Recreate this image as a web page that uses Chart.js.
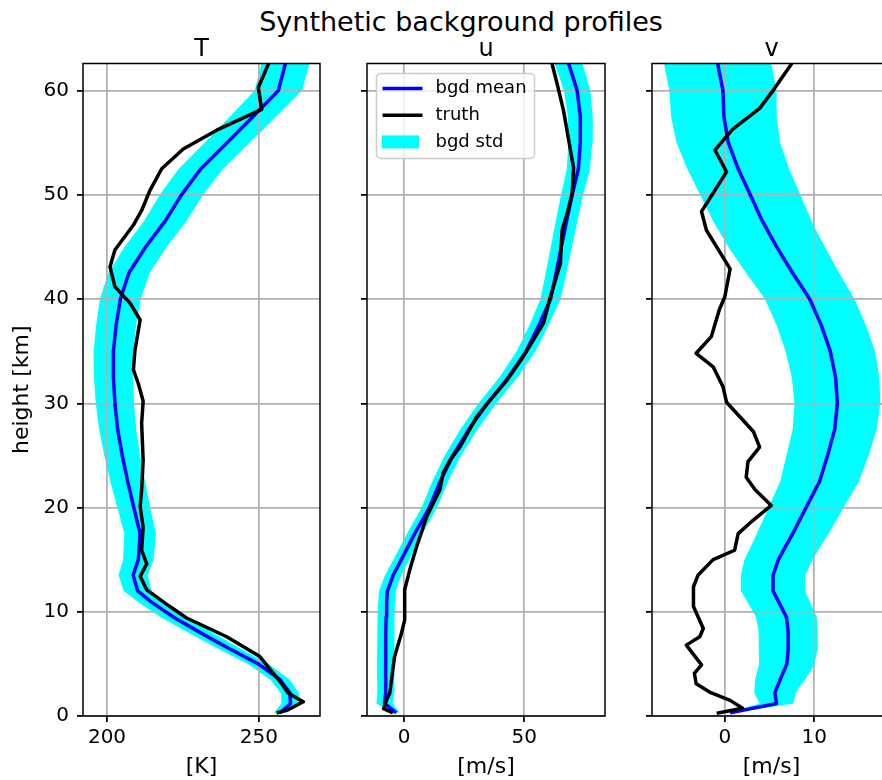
<!DOCTYPE html>
<html>
<head>
<meta charset="utf-8">
<script src="https://cdn.jsdelivr.net/npm/chart.js@4.4.0/dist/chart.umd.min.js"></script>
<style>
  body { margin: 0; background: #fff; }
  #fig { position: relative; width: 882px; height: 780px; overflow: hidden; background: #fff;
         font-family: "DejaVu Sans", sans-serif; }
  #suptitle { position: absolute; top: 6px; left: 0; width: 922px; text-align: center;
              font-size: 27px; color: #000; }
  canvas { position: absolute; top: 0; }
</style>
</head>
<body>
<div id="fig">
  <div id="suptitle">Synthetic background profiles</div>
  <canvas id="chartT" style="left:0px" width="330" height="780"></canvas>
  <canvas id="chartU" style="left:330px" width="290" height="780"></canvas>
  <canvas id="chartV" style="left:620px" width="275" height="780"></canvas>
</div>
<script>
// heights [km] of the background levels
const heightsBgd = [0.3, 1.2, 2.2, 3.5, 5, 6.5, 8, 9.5, 11, 12, 13.5, 15, 17.5, 20, 22.5, 25,
  27.5, 30, 32.5, 35, 37.5, 40, 42.5, 45, 47.5, 50, 52.5, 55, 57.5, 60, 62.6];

const meanT = [256.9, 260.4, 260.2, 256.9, 249.8, 240.0, 230.7, 221.8, 214.3, 210.1, 208.6, 210.3,
  210.9, 208.8, 206.8, 205.0, 203.5, 202.6, 202.1, 202.1, 203.0, 204.4, 207.2, 212.7, 219.2, 224.5,
  230.9, 239.5, 248.0, 256.4, 258.7];
const stdT = [2.0, 3.0, 3.0, 3.2, 3.4, 3.7, 4.0, 4.2, 4.4, 4.6, 4.8, 5.0, 5.2, 5.4, 5.7, 5.9,
  6.1, 6.3, 6.4, 6.5, 6.6, 6.7, 6.8, 6.9, 7.0, 7.1, 7.3, 7.4, 7.6, 7.8, 7.9];

const meanU = [-3.3, -8.2, -7.7, -7.7, -7.8, -7.7, -7.6, -7.5, -7.3, -7.0, -4.6, -1.2, 4.4, 10.5,
  15.0, 20.3, 27.0, 34.7, 43.5, 50.8, 56.2, 61.0, 63.3, 65.5, 67.7, 70.0, 72.6, 73.4, 73.4, 72.1, 68.5];
const stdU = [1.5, 3.4, 3.5, 3.6, 3.6, 3.6, 3.6, 3.6, 3.5, 3.5, 3.4, 3.3, 3.2, 3.2, 3.3, 3.4,
  3.6, 3.7, 3.8, 3.9, 4.0, 4.2, 4.3, 4.4, 4.5, 4.6, 4.8, 5.0, 5.2, 5.5, 5.8];

const meanV = [0.6, 5.8, 5.6, 6.2, 6.95, 7.1, 7.1, 6.9, 6.0, 5.4, 5.4, 6.0, 7.6, 9.1, 10.6, 11.5,
  12.3, 12.6, 12.4, 11.8, 10.8, 9.5, 7.6, 5.8, 4.2, 2.85, 1.5, 0.4, -0.1, -0.2, -0.8];
const stdV = [0.3, 1.9, 2.3, 2.8, 3.1, 3.3, 3.3, 3.4, 3.5, 3.6, 3.6, 3.8, 4.0, 4.2, 4.4, 4.6,
  4.7, 4.8, 4.9, 5.0, 5.0, 5.0, 5.2, 5.4, 5.5, 5.6, 5.7, 5.8, 5.9, 6.0, 6.0];

// truth profiles
const truthHeightsT = [0.29, 0.6, 1.37, 2.2, 3.1, 5.7, 7.6, 9.4, 10.5, 12.1, 13.4, 14.6, 15.9, 18.1,
  20.1, 21.7, 24.5, 28.1, 30.2, 31.9, 33.2, 35.1, 38.0, 39.6, 41.2, 43.1, 44.7, 47.1, 48.5, 50.4,
  52.5, 54.4, 56.2, 58.2, 60.3, 62.6];
const truthT = [255.8, 259.6, 264.6, 259.6, 257.5, 250.3, 239.4, 226.2, 220.7, 213.1, 210.9, 213.1,
  211.4, 211.9, 210.9, 211.4, 211.9, 211.4, 211.9, 210.3, 208.7, 209.2, 210.9, 207.6, 202.6, 201.0,
  202.6, 208.7, 211.4, 214.1, 218.0, 225.1, 236.1, 250.9, 249.8, 253.2];

const truthHeightsU = [0.3, 0.7, 1.5, 2.2, 4.0, 5.7, 7.9, 9.2, 12.1, 14.0, 16.2, 18.1, 19.1, 21.7,
  23.3, 24.5, 25.8, 28.7, 30.3, 32.2, 34.5, 37.7, 40.2, 43.4, 46.6, 48.2, 50.1, 52.6, 58.1, 60.7, 62.6];
const truthU = [-4.7, -8.6, -7.4, -6.0, -5.0, -4.0, -1.2, 0.2, 0.2, 2.3, 5.1, 7.9, 9.3, 14.9, 16.2,
  19.0, 23.2, 30.2, 35.8, 42.8, 49.7, 58.1, 60.9, 65.1, 65.8, 67.9, 70.0, 70.6, 66.4, 63.7, 61.6];

const truthHeightsV = [0.26, 0.74, 1.5, 2.3, 3.1, 4.1, 4.9, 6.8, 7.6, 8.4, 10.5, 12.4, 13.5, 15.0,
  15.9, 17.5, 18.8, 20.2, 21.7, 22.9, 24.4, 25.8, 27.3, 30.1, 31.6, 33.5, 34.8, 36.4, 39.0, 40.2,
  42.9, 46.6, 48.4, 52.2, 54.3, 56.3, 58.3, 60.0, 62.6];
const truthV = [-0.9, 2.0, 0.6, -1.7, -3.2, -3.4, -2.6, -4.3, -2.8, -2.4, -3.5, -3.5, -3.0, -1.3,
  1.1, 1.5, 3.2, 5.2, 3.4, 2.4, 2.6, 3.9, 3.2, 0.2, -0.2, -1.3, -3.2, -1.5, -0.6, 0.0, 0.6, -2.05,
  -2.6, 0.2, -1.1, 0.9, 3.9, 5.4, 7.5];

// ticks
const heightTicks = [0, 10, 20, 30, 40, 50, 60];
const tTicks = [200, 250];
const uTicks = [0, 50];
const vTicks = [0, 10];

Chart.defaults.font.family = 'DejaVu Sans';
Chart.defaults.color = '#000';

function pts(xs, ys) {
  return xs.map((x, i) => ({ x: x, y: ys[i] }));
}

// panel title above the axes
const panelTitle = {
  id: 'panelTitle',
  afterDraw(chart, args, opts) {
    const { ctx, chartArea } = chart;
    ctx.save();
    ctx.font = '24px "DejaVu Sans"';
    ctx.fillStyle = '#000';
    ctx.textAlign = 'center';
    ctx.textBaseline = 'alphabetic';
    ctx.fillText(opts.text, (chartArea.left + chartArea.right) / 2, chartArea.top - 8);
    ctx.restore();
  }
};

// grid goes over the std band but under the lines, like matplotlib
const gridOverBand = {
  id: 'gridOverBand',
  beforeDatasetDraw(chart, args) {
    if (args.index !== 1) return;
    chart.scales.x.drawGrid(chart.chartArea);
    chart.scales.y.drawGrid(chart.chartArea);
  }
};

// black frame round the axes
const frame = {
  id: 'frame',
  afterDatasetsDraw(chart) {
    const { ctx, chartArea } = chart;
    ctx.save();
    ctx.strokeStyle = '#000';
    ctx.lineWidth = 1.5;
    ctx.strokeRect(chartArea.left, chartArea.top, chartArea.right - chartArea.left, chartArea.bottom - chartArea.top);
    ctx.restore();
  }
};

// legend box inside the u panel
const boxLegend = {
  id: 'boxLegend',
  afterDraw(chart, args, opts) {
    if (!opts.show) return;
    const { ctx, chartArea } = chart;
    const ds = chart.data.datasets;
    const byLabel = l => ds.find(d => d.label === l);
    const items = ['bgd mean', 'truth', 'bgd std'].map(byLabel);
    const x0 = chartArea.left + 9.5, y0 = chartArea.top + 10, w = 158, h = 85, r = 4;
    ctx.save();
    ctx.beginPath();
    ctx.moveTo(x0 + r, y0);
    ctx.arcTo(x0 + w, y0, x0 + w, y0 + h, r);
    ctx.arcTo(x0 + w, y0 + h, x0, y0 + h, r);
    ctx.arcTo(x0, y0 + h, x0, y0, r);
    ctx.arcTo(x0, y0, x0 + w, y0, r);
    ctx.closePath();
    ctx.fillStyle = 'rgba(255,255,255,0.8)';
    ctx.fill();
    ctx.strokeStyle = '#cccccc';
    ctx.lineWidth = 1.5;
    ctx.stroke();
    ctx.font = '18px "DejaVu Sans"';
    ctx.textBaseline = 'middle';
    ctx.textAlign = 'left';
    items.forEach((d, i) => {
      const yy = y0 + 15 + i * 26.7;
      if (d.fill) {
        ctx.fillStyle = d.backgroundColor;
        ctx.fillRect(x0 + 5.5, yy - 6.5, 37, 13);
      } else {
        ctx.strokeStyle = d.borderColor;
        ctx.lineWidth = 3.5;
        ctx.beginPath();
        ctx.moveTo(x0 + 6, yy);
        ctx.lineTo(x0 + 46, yy);
        ctx.stroke();
      }
      ctx.fillStyle = '#000';
      ctx.fillText(d.label, x0 + 59, yy);
    });
    ctx.restore();
  }
};

function makePanel(id, cfg) {
  const lower = cfg.mean.map((m, i) => m - cfg.std[i]);
  const upper = cfg.mean.map((m, i) => m + cfg.std[i]);
  return new Chart(document.getElementById(id), {
    type: 'line',
    data: {
      datasets: [
        { label: 'truth', data: pts(cfg.truth, cfg.truthHeights), borderColor: '#000000',
          borderWidth: 3.5, pointRadius: 0, fill: false, tension: 0, borderJoinStyle: 'round' },
        { label: 'bgd mean', data: pts(cfg.mean, heightsBgd), borderColor: '#0000ff',
          borderWidth: 3.5, pointRadius: 0, fill: false, tension: 0, borderJoinStyle: 'round' },
        { label: 'bgd std low', data: pts(lower, heightsBgd), borderColor: 'transparent',
          borderWidth: 0, pointRadius: 0, fill: false, tension: 0 },
        { label: 'bgd std', data: pts(upper, heightsBgd), borderColor: 'transparent',
          backgroundColor: '#00ffff', borderWidth: 0, pointRadius: 0, fill: '-1', tension: 0 }
      ]
    },
    options: {
      indexAxis: 'y',
      responsive: false,
      animation: false,
      events: [],
      layout: { autoPadding: false, padding: { left: 0, top: 63.5, right: cfg.padRight, bottom: 0 } },
      scales: {
        x: {
          type: 'linear', min: cfg.xmin, max: cfg.xmax,
          afterBuildTicks: s => { s.ticks = cfg.xTicks.map(v => ({ value: v })); },
          afterFit: s => { s.height = 64; },
          grid: { color: '#b0b0b0', lineWidth: 1.5, tickColor: '#000', tickLength: 6, tickWidth: 1.5 },
          border: { display: false },
          ticks: { font: { size: 20 }, color: '#000', padding: 4, maxRotation: 0 },
          title: { display: true, text: cfg.xLabel, font: { size: 22 }, color: '#000', padding: { top: 0, bottom: 0 } }
        },
        y: {
          type: 'linear', min: 0, max: 62.6,
          afterBuildTicks: s => { s.ticks = heightTicks.map(v => ({ value: v })); },
          afterFit: s => { s.width = cfg.yWidth; },
          grid: { color: '#b0b0b0', lineWidth: 1.5, tickColor: '#000', tickLength: 6, tickWidth: 1.5 },
          border: { display: false },
          ticks: { font: { size: 20 }, color: '#000', padding: 8,
                   callback: v => cfg.yLabels ? String(v) : '' },
          title: { display: cfg.yLabels, text: 'height [km]', font: { size: 22 }, color: '#000',
                   padding: { top: 9, bottom: 0 } }
        }
      },
      plugins: {
        legend: { display: false },
        tooltip: { enabled: false },
        panelTitle: { text: cfg.title },
        boxLegend: { show: !!cfg.legend }
      }
    },
    plugins: [gridOverBand, panelTitle, frame, boxLegend]
  });
}

makePanel('chartT', { title: 'T', mean: meanT, std: stdT, truth: truthT, truthHeights: truthHeightsT,
  xmin: 192.1, xmax: 270.1, xTicks: tTicks, xLabel: '[K]', yWidth: 83, padRight: 10, yLabels: true });
makePanel('chartU', { title: 'u', mean: meanU, std: stdU, truth: truthU, truthHeights: truthHeightsU,
  xmin: -15.5, xmax: 83.7, xTicks: uTicks, xLabel: '[m/s]', yWidth: 37, padRight: 15, yLabels: false, legend: true });
makePanel('chartV', { title: 'v', mean: meanV, std: stdV, truth: truthV, truthHeights: truthHeightsV,
  xmin: -8.14, xmax: 18.6, xTicks: vTicks, xLabel: '[m/s]', yWidth: 32, padRight: 4, yLabels: false });
</script>
</body>
</html>
